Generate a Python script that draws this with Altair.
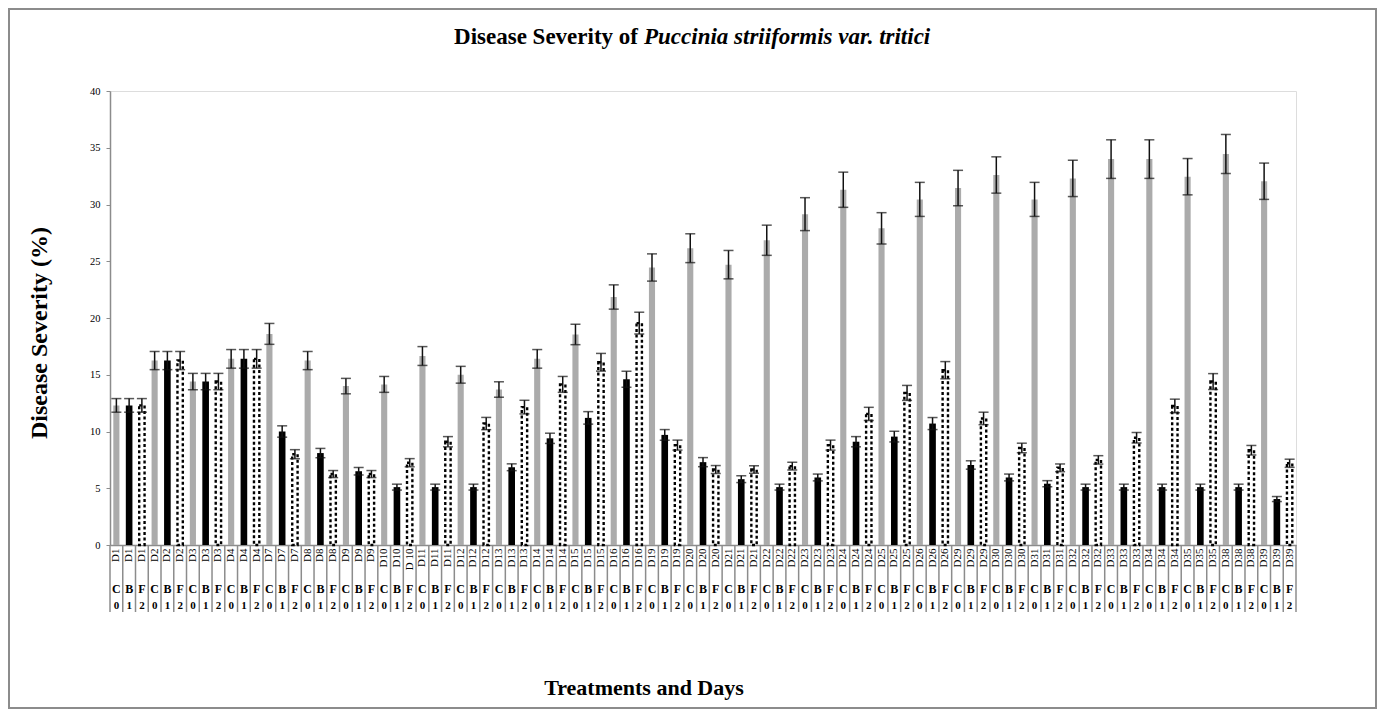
import altair as alt
import pandas as pd

days = ["D1", "D2", "D3", "D4", "D7", "D8", "D9", "D10", "D11", "D12", "D13", "D14",
        "D15", "D16", "D19", "D20", "D21", "D22", "D23", "D24", "D25", "D26", "D29",
        "D30", "D31", "D32", "D33", "D34", "D35", "D38", "D39"]
treatments = ["C", "B", "F"]
codes = ["0", "1", "2"]

c_mean = [12.3, 16.25, 14.4, 16.4, 18.6, 16.25, 14.0, 14.15, 16.65, 15.0, 13.7, 16.4,
          18.55, 21.85, 24.45, 26.15, 24.7, 26.85, 29.15, 31.3, 27.9, 30.45, 31.45,
          32.6, 30.45, 32.3, 34.0, 34.0, 32.45, 34.45, 32.05]
c_err = [0.6, 0.8, 0.72, 0.82, 0.92, 0.8, 0.68, 0.7, 0.83, 0.74, 0.68, 0.82, 0.9, 1.07,
         1.2, 1.27, 1.25, 1.33, 1.45, 1.55, 1.38, 1.5, 1.56, 1.6, 1.5, 1.6, 1.7, 1.7,
         1.6, 1.72, 1.6]
b_mean = [12.3, 16.25, 14.4, 16.4, 10.0, 8.1, 6.5, 5.1, 5.1, 5.1, 6.85, 9.4, 11.2, 14.6,
          9.7, 7.3, 5.8, 5.1, 5.95, 9.1, 9.55, 10.7, 7.05, 5.95, 5.4, 5.1, 5.1, 5.1, 5.1,
          5.1, 4.05]
b_err = [0.6, 0.8, 0.72, 0.82, 0.5, 0.41, 0.33, 0.26, 0.26, 0.26, 0.3, 0.45, 0.55, 0.7,
         0.47, 0.4, 0.3, 0.26, 0.3, 0.45, 0.47, 0.53, 0.37, 0.3, 0.27, 0.26, 0.26, 0.26,
         0.26, 0.26, 0.22]
f_mean = [12.3, 16.25, 14.4, 16.4, 8.0, 6.25, 6.25, 7.25, 9.1, 10.7, 12.15, 14.15, 16.1,
          19.55, 8.8, 6.65, 6.65, 6.95, 8.8, 11.55, 13.4, 15.4, 11.15, 8.55, 6.8, 7.5,
          9.45, 12.25, 14.4, 8.35, 7.2]
f_err = [0.6, 0.8, 0.72, 0.82, 0.4, 0.31, 0.31, 0.36, 0.45, 0.54, 0.6, 0.7, 0.78, 0.96,
         0.44, 0.35, 0.33, 0.34, 0.44, 0.58, 0.66, 0.76, 0.55, 0.42, 0.34, 0.37, 0.47,
         0.6, 0.7, 0.42, 0.36]

means = {"C": c_mean, "B": b_mean, "F": f_mean}
errs = {"C": c_err, "B": b_err, "F": f_err}

rows = []
for i, d in enumerate(days):
    for t, code in zip(treatments, codes):
        lbl = "D 10" if (d == "D10" and t == "F") else d
        m = means[t][i]
        e = errs[t][i]
        rows.append({"key": f"{lbl}|{t}", "day": d, "trt": t, "code": code,
                     "mean": m, "lo": m - e, "hi": m + e})
df = pd.DataFrame(rows)
keys = list(df["key"])

W, H = 1186, 454
SERIF = "Liberation Serif"

xscale = alt.Scale(domain=keys, paddingInner=0, paddingOuter=0)
x_axis = alt.Axis(title=None, labelAngle=270, labelExpr="split(datum.value, '|')[0]",
                  labelFont=SERIF, labelFontSize=11, labelColor="#000", labelPadding=3,
                  ticks=False, domainColor="#8c8c8c", domainWidth=1.5, labelOverlap=False)
X = alt.X("key:N", sort=keys, scale=xscale, axis=x_axis)
X_plain = alt.X("key:N", sort=keys, scale=xscale)
yscale = alt.Scale(domain=[0, 40], nice=False)
y_axis = alt.Axis(title=None, values=[0, 5, 10, 15, 20, 25, 30, 35, 40], grid=False,
                  labelFont=SERIF, labelFontSize=10.5, labelColor="#000", labelPadding=6,
                  tickColor="#8c8c8c", tickSize=4, domainColor="#8c8c8c", domainWidth=1.5)
Y = alt.Y("mean:Q", scale=yscale, axis=y_axis)

base = alt.Chart(df)

bar_c = base.transform_filter(alt.datum.trt == "C").mark_bar(
    width=alt.RelativeBandSize(0.48), color="#ababab").encode(x=X, y=Y)
bar_b = base.transform_filter(alt.datum.trt == "B").mark_bar(
    width=alt.RelativeBandSize(0.52), color="#000000").encode(x=X_plain, y=alt.Y("mean:Q", scale=yscale))
bar_f = base.transform_filter(alt.datum.trt == "F").mark_bar(
    width=alt.RelativeBandSize(0.42), fill="#ffffff", stroke="#000000", strokeWidth=2.4,
    strokeDash=[3, 2.5]).encode(x=X_plain, y=alt.Y("mean:Q", scale=yscale))

err_rule = base.mark_rule(color="#111111", strokeWidth=1.5).encode(
    x=X_plain, y=alt.Y("lo:Q", scale=yscale), y2="hi:Q")
cap_hi = base.mark_tick(color="#111111", size=10, thickness=1.5).encode(
    x=X_plain, y=alt.Y("hi:Q", scale=yscale))
cap_lo = base.mark_tick(color="#111111", size=10, thickness=1.5).encode(
    x=X_plain, y=alt.Y("lo:Q", scale=yscale))

row2 = base.mark_text(font=SERIF, fontSize=12, fontWeight="bold", color="#000",
                      align="center").encode(
    x=X_plain, y=alt.value(H + 44), text="trt:N")
row3 = base.mark_text(font=SERIF, fontSize=11, fontWeight="bold", color="#000",
                      align="center").encode(
    x=X_plain, y=alt.value(H + 61), text="code:N")

dividers = base.mark_rule(color="#8c8c8c", strokeWidth=1.5).encode(
    x=alt.X("key:N", sort=keys, scale=xscale, bandPosition=0),
    y=alt.value(H), y2=alt.value(H + 67))
last_div = alt.Chart(pd.DataFrame({"a": [0]})).mark_rule(color="#8c8c8c", strokeWidth=1.5).encode(
    x=alt.value(W), y=alt.value(H), y2=alt.value(H + 67))

one = pd.DataFrame({"a": [0]})
title1 = alt.Chart(one).mark_text(text="Disease Severity of", font=SERIF, fontSize=23,
                                  fontWeight="bold", align="right", baseline="middle",
                                  color="#000").encode(x=alt.value(528), y=alt.value(-54))
title2 = alt.Chart(one).mark_text(text="Puccinia striiformis var. tritici", font=SERIF,
                                  fontSize=23, fontWeight="bold", fontStyle="italic",
                                  align="left", baseline="middle",
                                  color="#000").encode(x=alt.value(534), y=alt.value(-54))
ytitle = alt.Chart(one).mark_text(text="Disease Severity (%)", font=SERIF, fontSize=24,
                                  fontWeight="bold", angle=270, align="center",
                                  baseline="middle", color="#000").encode(
    x=alt.value(-70), y=alt.value(242))
xtitle = alt.Chart(one).mark_text(text="Treatments and Days", font=SERIF, fontSize=22,
                                  fontWeight="bold", align="center", baseline="middle",
                                  color="#000").encode(x=alt.value(534), y=alt.value(597))
frame = alt.Chart(one).mark_rect(fillOpacity=0, stroke="#8c8c8c", strokeWidth=2).encode(
    x=alt.value(-101), x2=alt.value(W + 80), y=alt.value(-82), y2=alt.value(H + 163))

chart = alt.layer(
    frame, bar_c, bar_b, bar_f, err_rule, cap_hi, cap_lo, dividers, last_div,
    row2, row3, title1, title2, ytitle, xtitle
).properties(
    width=W, height=H,
    padding={"left": 102, "top": 83, "right": 81, "bottom": 164},
    autosize=alt.AutoSizeParams(type="none"),
).configure_view(stroke=None).configure(background="#ffffff")

chart.save("out.html", embed_options={"renderer": "svg", "actions": False})
